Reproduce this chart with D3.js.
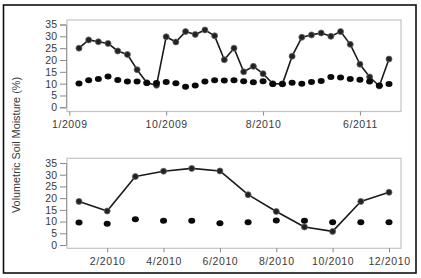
<!DOCTYPE html>
<html><head><meta charset="utf-8">
<script src="https://cdn.jsdelivr.net/npm/d3@7"></script>
<style>
html,body{margin:0;padding:0;background:#fff;}
text{font-family:"Liberation Sans",Arial,sans-serif;fill:#3a3a3a;}
</style></head>
<body><svg id="c" width="421" height="278"></svg>
<script>
// ---- data ----
const topIndex = d3.range(1, 34);
const topSolid = [25,28.5,27.7,27,23.8,22.3,15.9,10.4,9.3,29.8,27.6,32,30.8,32.7,30.2,20.1,25,15,17.3,14.2,10,9.9,21.6,29.6,30.6,31.4,30,32,26.6,18.2,12.8,9,20.4];
const topDots  = [10.1,11.4,12,13,11.5,10.9,10.9,10.3,10.3,10.7,10.2,8.7,9.2,10.9,11.4,11.3,11.4,11,10.6,11,9.9,9.9,10.4,10,10.7,11.1,12.8,12.6,12,11.6,10.9,9.2,9.9];
const topTickIdx = [0,10,20,30];
const topTickLabels = ["1/2009","10/2009","8/2010","6/2011"];

const botMonths = d3.range(1, 13);
const botSolid = [18.6,14.5,29.2,31.5,32.7,31.6,21.5,14.3,7.7,5.8,18.6,22.5];
const botDots  = [9.6,9.1,11,10.3,10.3,9.3,9.7,10.5,10.3,9.7,9.7,9.7];
const botTickMonths = [2,4,6,8,10,12];
const botTickLabels = ["2/2010","4/2010","6/2010","8/2010","10/2010","12/2010"];

const yTicks = [0,5,10,15,20,25,30,35];
const yLabel = "Volumetric Soil Moisture (%)";

// ---- drawing ----
const svg = d3.select("#c");
svg.append("rect").attr("x",3.5).attr("y",5).attr("width",412.5).attr("height",268)
  .attr("fill","none").attr("stroke","#111").attr("stroke-width",1.6);

svg.append("text").attr("transform","translate(20,145) rotate(-90)")
  .attr("text-anchor","middle").attr("font-size",11).attr("textLength",136)
  .attr("lengthAdjust","spacingAndGlyphs").text(yLabel);

function panel(cfg){
  const g = svg.append("g");
  const x = d3.scaleLinear().domain(cfg.xDomain).range(cfg.xRange);
  const y = d3.scaleLinear().domain([0,35]).range(cfg.yRange);
  g.append("rect").attr("x",67).attr("y",cfg.box[0]).attr("width",334).attr("height",cfg.box[1]-cfg.box[0])
    .attr("fill","none").attr("stroke","#c4c4c4").attr("stroke-width",1.2);
  const ya = g.append("g").attr("transform","translate(66,0)")
    .call(d3.axisLeft(y).tickValues(yTicks).tickSize(6).tickPadding(3).tickFormat(d3.format("d")));
  ya.select(".domain").attr("stroke","#999");
  ya.selectAll(".tick line").attr("stroke","#888");
  ya.selectAll("text").attr("font-size",10.5).style("font-family","Liberation Sans, Arial, sans-serif").attr("fill","#3a3a3a");
  const xa = g.append("g").attr("transform",`translate(0,${cfg.box[1]})`)
    .call(d3.axisBottom(x).tickValues(cfg.ticks).tickSize(4).tickPadding(5)
      .tickFormat((d,i)=>cfg.labels[i]));
  xa.select(".domain").remove();
  xa.selectAll(".tick line").attr("stroke","#888");
  xa.selectAll("text").attr("font-size",10.5).attr("letter-spacing",0.6)
    .style("font-family","Liberation Sans, Arial, sans-serif").attr("fill","#3a3a3a");
  const line = d3.line().x((d,i)=>x(cfg.xs[i])).y(d=>y(d));
  g.append("path").datum(cfg.solid).attr("d",line).attr("fill","none")
    .attr("stroke","#1a1a1a").attr("stroke-width",1.6).attr("stroke-linejoin","round");
  g.selectAll(".sp").data(cfg.solid).join("circle").attr("class","sp")
    .attr("cx",(d,i)=>x(cfg.xs[i])).attr("cy",d=>y(d)).attr("r",3)
    .attr("fill","#222").attr("stroke","#666").attr("stroke-width",0.8);
  g.selectAll(".dp").data(cfg.dots).join("ellipse").attr("class","dp")
    .attr("cx",(d,i)=>x(cfg.xs[i])).attr("cy",d=>y(d)).attr("rx",3.5).attr("ry",3)
    .attr("fill","#0a0a0a");
}

panel({xDomain:[0,33], xRange:[69.3,389], yRange:[107.3,24.5], box:[20,111.5],
  ticks:topTickIdx, labels:topTickLabels, xs:topIndex, solid:topSolid, dots:topDots});
panel({xDomain:[1,12], xRange:[79,389], yRange:[245,163], box:[158.3,248.3],
  ticks:botTickMonths, labels:botTickLabels, xs:botMonths, solid:botSolid, dots:botDots});
</script></body></html>
